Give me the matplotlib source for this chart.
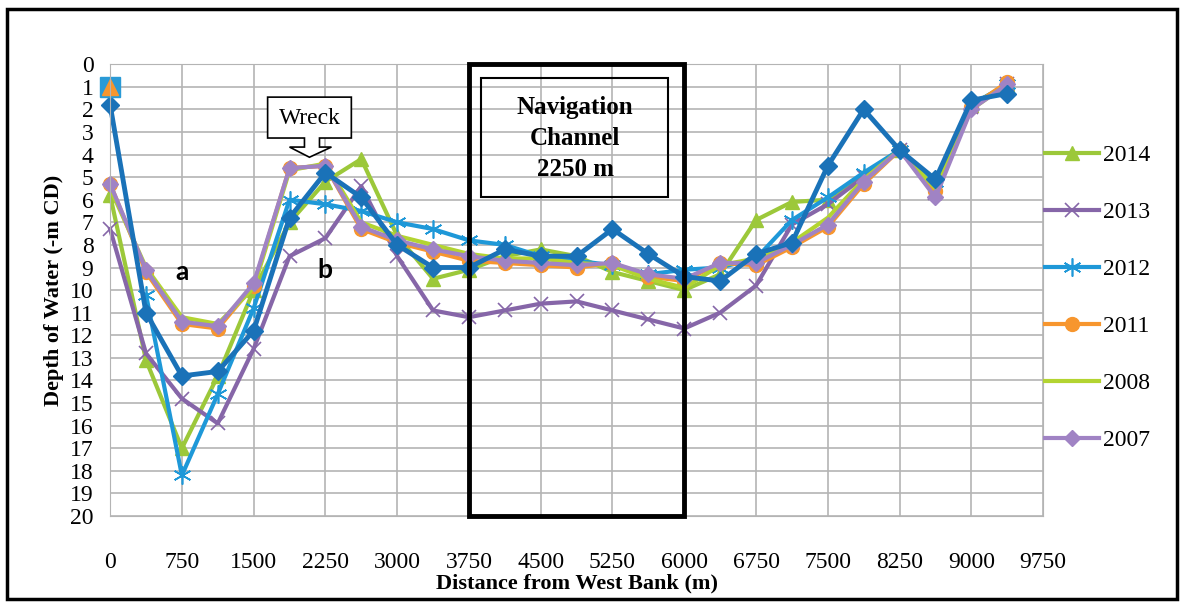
import numpy as np
import matplotlib.pyplot as plt
from matplotlib.patches import Rectangle, Polygon

# distance from west bank (m), one sounding every 375 m
distance = np.arange(0, 9376, 375)

# depth of water (-m CD)
depth_2014 = [5.8, 13.1, 17.0, 13.8, 10.0, 7.0, 5.2, 4.2, 7.6, 9.5, 9.1, 8.5, 8.2,
              8.5, 9.2, 9.6, 10.0, 9.3, 6.9, 6.1, 6.0, 4.9, 3.8, 5.3, 1.8, 0.9]
depth_2013 = [7.3, 12.8, 14.8, 15.9, 12.6, 8.5, 7.7, 5.4, 8.5, 10.9, 11.2, 10.9, 10.6,
              10.5, 10.9, 11.3, 11.7, 11.0, 9.8, 7.1, 6.2, 5.0, 3.8, 5.7, 1.9, 0.9]
depth_2012 = [np.nan, 10.2, 18.2, 14.6, 10.8, 6.0, 6.2, 6.5, 7.0, 7.3, 7.8, 8.0, 8.5,
              8.7, 8.9, 9.3, 9.1, 9.0, 8.6, 6.9, 5.9, 4.8, 3.8, 5.2, 1.8, 0.9]
depth_2011 = [5.3, 9.2, 11.5, 11.7, 9.8, 4.6, 4.5, 7.3, 7.9, 8.3, 8.7, 8.8, 8.9,
              9.0, 8.8, 9.4, 9.6, 8.8, 8.9, 8.1, 7.2, 5.3, 3.8, 5.6, 1.9, 0.8]
depth_2008 = [5.5, 9.0, 11.2, 11.5, 9.9, 4.7, 4.4, 7.0, 7.6, 8.0, 8.4, 8.6, 8.6,
              8.8, 8.9, 9.5, 9.9, 8.9, 8.6, 7.9, 6.8, 5.1, 3.8, 5.5, 2.0, 0.9]
depth_2007 = [5.3, 9.1, 11.4, 11.6, 9.7, 4.6, 4.5, 7.2, 7.8, 8.2, 8.5, 8.7, 8.8,
              8.9, 8.8, 9.3, 9.5, 8.8, 8.8, 8.0, 7.1, 5.2, 3.8, 5.9, 2.0, 0.9]
# extra survey drawn in the figure but not in its legend
depth_extra = [1.8, 11.0, 13.8, 13.6, 11.8, 6.8, 4.8, 5.9, 8.0, 9.0, 9.0, 8.2, 8.5,
               8.5, 7.3, 8.4, 9.4, 9.6, 8.4, 7.9, 4.5, 2.0, 3.8, 5.1, 1.6, 1.3]
bank_depth = 1.0

plt.rcParams['font.family'] = ['Liberation Serif', 'DejaVu Serif']

fig = plt.figure(figsize=(11.84, 6.05), dpi=100)
ax = fig.add_axes([0.093, 0.147, 0.788, 0.747])

# series, drawn in the order of the legend
ax.plot(distance, depth_2014, color='#9cc83a', lw=3, marker='^', ms=10, label='2014', clip_on=False)
ax.plot(distance, depth_2013, color='#8666a8', lw=3, marker='x', ms=10, mew=1.2, label='2013', clip_on=False)
ax.plot(distance, depth_2012, color='#1e98d8', lw=3, marker=(6, 2, 0), ms=13, mew=1.2, label='2012', clip_on=False)
ax.plot(distance, depth_2011, color='#f7962e', lw=3, marker='o', ms=10, label='2011', clip_on=False)
ax.plot(distance, depth_2008, color='#b3d431', lw=3, label='2008', clip_on=False)
ax.plot(distance, depth_2007, color='#a083c4', lw=3, marker='D', ms=8, label='2007', clip_on=False)
ax.plot(distance, depth_extra, color='#1a72b8', lw=3.5, marker='D', ms=9, clip_on=False)
ax.plot(distance[0], bank_depth, marker='s', ms=14, color='#2a9ad6', clip_on=False)
ax.plot(distance[0], bank_depth, marker='^', ms=11, color='#f7962e', clip_on=False)

# axes
ax.set_xlim(0, 9750)
ax.set_ylim(20, 0)
ax.set_xticks(np.arange(0, 9751, 750))
ax.set_yticks(np.arange(0, 21, 1))
ax.tick_params(length=0, labelsize=17)
ax.tick_params(axis='x', pad=26)
ax.tick_params(axis='y', pad=12)
ax.grid(True, color='#b4b4b4', lw=1.2)
ax.set_axisbelow(True)
for s in ax.spines.values():
    s.set_color('#b4b4b4')
ax.set_xlabel('Distance from West Bank (m)', fontsize=16, fontweight='bold', labelpad=0)
ax.set_ylabel('Depth of Water (-m CD)', fontsize=16, fontweight='bold', labelpad=4)

# navigation channel
ax.add_patch(Rectangle((3750, 0), 2250, 20, fill=False, ec='black', lw=3.5, zorder=5, clip_on=False))
ax.add_patch(Rectangle((3875, 0.6), 1960, 5.3, fill=False, ec='black', lw=1.5, zorder=5))
ax.text(4860, 3.3, 'Navigation\nChannel\n2250 m', ha='center', va='center',
        fontsize=18, fontweight='bold', linespacing=1.45, zorder=6)

# wreck callout
callout = [(1646, 1.46), (2521, 1.46), (2521, 3.27), (2188, 3.27), (2188, 3.67),
           (2313, 3.67), (2083, 4.12), (1875, 3.67), (2031, 3.67), (2031, 3.27),
           (1646, 3.27)]
ax.add_patch(Polygon(callout, closed=True, fc='white', ec='black', lw=1.2, zorder=6))
ax.text(2083, 2.4, 'Wreck', ha='center', va='center', fontsize=17, zorder=7)

ax.text(750, 9.2, 'a', ha='center', va='center', fontsize=19, fontweight='bold', family='Lato')
ax.text(2240, 9.1, 'b', ha='center', va='center', fontsize=19, fontweight='bold', family='Lato')

leg = ax.legend(loc='center left', frameon=False, fontsize=17, handlelength=2.3,
                handletextpad=0.15, labelspacing=1.5, borderaxespad=0, borderpad=0)
leg.set_bbox_to_anchor((1.002, 0.483), transform=ax.transAxes)

# outer frame
fig.patches.append(Rectangle((0.006, 0.01), 0.988, 0.975, transform=fig.transFigure,
                             fill=False, ec='black', lw=2.5))

plt.savefig('out.png', dpi=100)
